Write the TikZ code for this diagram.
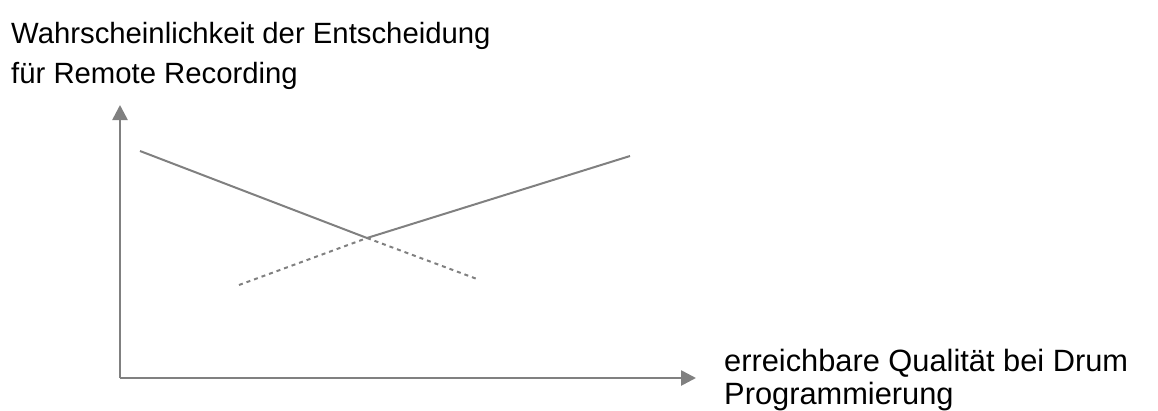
\documentclass[tikz,border=0pt]{standalone}
\usepackage{fontspec}
\setmainfont{Liberation Sans}
\usetikzlibrary{arrows.meta}
\definecolor{lg}{HTML}{808080}
\begin{document}
\begin{tikzpicture}[x=1pt,y=-1pt,
  axis/.style={draw=lg,line width=2.6pt,-{Triangle[length=15pt,width=15pt]}},
  curve/.style={draw=lg,line width=2pt},
  dotcurve/.style={draw=lg,line width=2pt,dash pattern=on 4pt off 4pt},
  lbl/.style={anchor=base west,inner sep=0pt},
  toplbl/.style={lbl,font=\fontsize{29.3pt}{35pt}\selectfont},
  botlbl/.style={lbl,font=\fontsize{30.8pt}{35pt}\selectfont}]
\useasboundingbox (0,0) rectangle (1158,410);
\coordinate (O) at (120,378);
\coordinate (YT) at (120,105);
\coordinate (XT) at (696,378);
\coordinate (A) at (140,151);
\coordinate (X) at (367,238);
\coordinate (B) at (630,156);
\coordinate (C) at (239,285);
\coordinate (D) at (477,279);
\draw[axis] (O) -- (YT);
\draw[axis] (O) -- (XT);
\draw[curve] (A) -- (X) -- (B);
\draw[dotcurve] (C) -- (X);
\draw[dotcurve] (X) -- (D);
\node[toplbl] (ylab1) at (11,43) {Wahrscheinlichkeit der Entscheidung};
\node[toplbl] (ylab2) at (11,83) {für Remote Recording};
\node[botlbl] (xlab1) at (724,371) {erreichbare Qualität bei Drum};
\node[botlbl] (xlab2) at (724,404) {Programmierung};
\end{tikzpicture}
\end{document}
